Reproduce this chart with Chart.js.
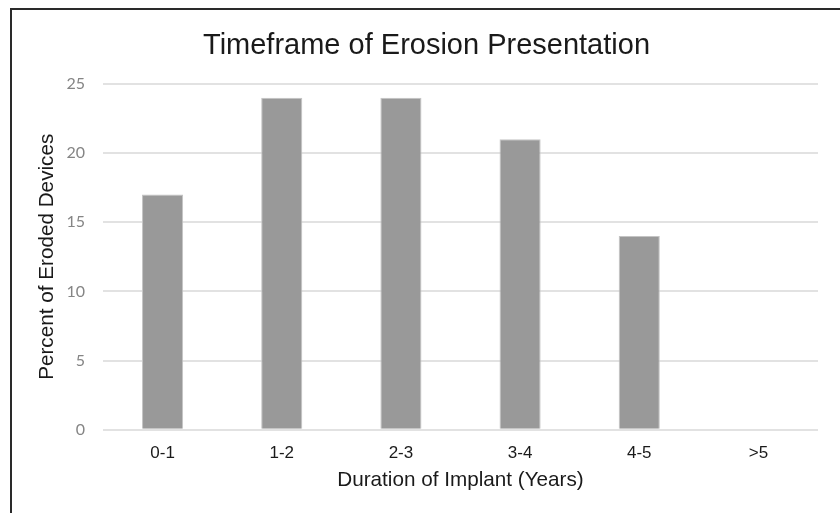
<!DOCTYPE html>
<html lang="en">
<head>
	<meta charset="UTF-8">
	<title>Timeframe of Erosion Presentation</title>
	<script src="https://cdn.jsdelivr.net/npm/chart.js"></script>
	<style>
		* { margin: 0; padding: 0; box-sizing: border-box; }
		body { background: #fff; width: 840px; height: 513px; overflow: hidden; }
		#marco {
			position: absolute;
			left: 0; top: 0;
			width: 840px; height: 513px;
		}
		#borde {
			position: absolute;
			left: 10px; top: 8px;
			width: 830px; height: 505px;
			border-left: 2px solid #2a2a2a;
			border-top: 2px solid #2a2a2a;
			pointer-events: none;
		}
	</style>
</head>
<body>
	<div id="marco">
		<canvas id="grafico" width="840" height="513"></canvas>
	</div>
	<div id="borde"></div>

	<script>
		// datos
		const categorias = ['0-1', '1-2', '2-3', '3-4', '4-5', '>5'];
		const porcentajes = [17, 24, 24, 21, 14, 0];
		const ticksY = [0, 5, 10, 15, 20, 25];

		const titulo = 'Timeframe of Erosion Presentation';
		const tituloX = 'Duration of Implant (Years)';
		const tituloY = 'Percent of Eroded Devices';

		const arial = "'Liberation Sans', Arial, sans-serif";

		const config = {
			type: 'bar',
			data: {
				labels: categorias,
				datasets: [{
					data: porcentajes,
					backgroundColor: '#999999',
					borderColor: '#c4c4c4',
					borderWidth: 1,
					categoryPercentage: 1,
					barPercentage: 0.345
				}]
			},
			options: {
				responsive: false,
				animation: false,
				layout: {
					padding: { left: 35, right: 22, top: 12, bottom: 20 }
				},
				plugins: {
					legend: { display: false },
					tooltip: { enabled: false },
					title: {
						display: true,
						text: titulo,
						color: '#1a1a1a',
						font: { family: arial, size: 29, weight: 'normal' },
						padding: { top: 17, bottom: 20 }
					}
				},
				scales: {
					x: {
						grid: { display: false },
						border: { display: false },
						ticks: {
							color: '#1a1a1a',
							font: { family: arial, size: 17 },
							padding: 5
						},
						title: {
							display: true,
							text: tituloX,
							color: '#1a1a1a',
							font: { family: arial, size: 20.7 },
							padding: { top: 0, bottom: 0 }
						}
					},
					y: {
						min: ticksY[0],
						max: ticksY[ticksY.length - 1],
						// ancho fijo del eje para que el área empiece donde en el original
						afterFit: (eje) => { eje.width = 68; },
						grid: {
							color: '#e2e2e2',
							lineWidth: 2,
							drawTicks: false
						},
						border: { display: false },
						ticks: {
							stepSize: ticksY[1] - ticksY[0],
							color: '#858585',
							font: { family: "Lato, 'Open Sans', sans-serif", size: 16 },
							padding: 18
						},
						title: {
							display: true,
							text: tituloY,
							color: '#1a1a1a',
							font: { family: arial, size: 20.7 },
							padding: { top: 0, bottom: 8 }
						}
					}
				}
			}
		};

		new Chart(document.getElementById('grafico'), config);
	</script>
</body>
</html>
